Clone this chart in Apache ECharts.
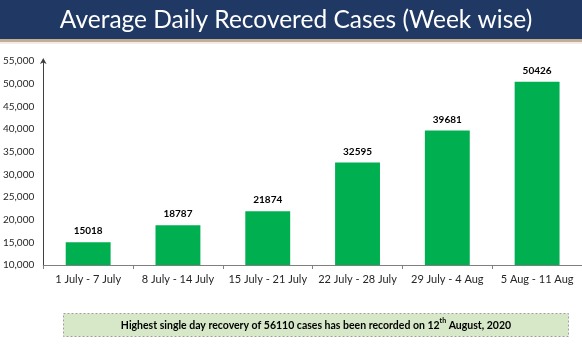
<!DOCTYPE html>
<html>
<head>
<meta charset="utf-8">
<script src="https://cdn.jsdelivr.net/npm/echarts@6/dist/echarts.min.js"></script>
<style>html,body{margin:0;padding:0;background:#fff}#c{width:582px;height:350px}</style>
</head>
<body>
<div id="c"></div>
<script>
const categories = ['1 July - 7 July','8 July - 14 July','15 July - 21 July','22 July - 28 July','29 July - 4 Aug','5 Aug - 11 Aug'];
const recovered = [15018, 18787, 21874, 32595, 39681, 50426];
const yMin = 10000, yMax = 55000, yStep = 5000;
const titleText = 'Average Daily Recovered Cases (Week wise)';

const chart = echarts.init(document.getElementById('c'), null, {renderer:'canvas'});
chart.setOption({
  animation: false,
  backgroundColor: '#ffffff',
  grid: {left: 41, right: -8, top: 61, bottom: 85, containLabel: false},
  xAxis: {
    type: 'category',
    data: categories,
    axisLine: {show: true, lineStyle: {color: '#7f7f7f', width: 1}},
    axisTick: {show: true, alignWithLabel: false, length: 4, lineStyle: {color: '#7f7f7f'}},
    axisLabel: {color: '#262626', fontFamily: 'Lato', fontSize: 11, margin: 9, interval: 0}
  },
  yAxis: {
    type: 'value',
    min: yMin, max: yMax, interval: yStep,
    axisLine: {show: true, symbol: ['none','arrow'], symbolSize: [5,6], symbolOffset: [0, 3], lineStyle: {color: '#404040', width: 1}},
    axisTick: {show: false},
    splitLine: {show: false},
    axisLabel: {color: '#262626', fontFamily: 'Lato', fontSize: 10, margin: 9,
      formatter: v => v.toLocaleString('en-US')}
  },
  series: [{
    type: 'bar',
    data: recovered,
    barWidth: '50%',
    itemStyle: {color: '#00B050'},
    label: {show: true, position: 'top', color: '#000', fontWeight: 'bold', fontFamily: 'Lato', fontSize: 10, distance: 6}
  }],
  graphic: [
    {type: 'rect', left: 0, top: 0, shape: {width: 582, height: 39}, style: {fill: '#1F3864'}, z: 10},
    {type: 'rect', left: 0, top: 39, shape: {width: 582, height: 3}, style: {fill: '#c2ae96'}, z: 10},
    {type: 'rect', left: 0, top: 42, shape: {width: 582, height: 2}, style: {fill: '#f3ece4'}, z: 10},
    {type: 'text', x: 296, y: 20, z: 11,
      style: {text: titleText, fill: '#ffffff', font: '24.5px Lato', align: 'center', verticalAlign: 'middle'}},
    {type: 'rect', left: 63, top: 313, z: 10,
      shape: {width: 505, height: 23},
      style: {fill: '#D6E8C8', stroke: '#a0a0a0', lineWidth: 1, lineDash: [2,2]}},
    {type: 'text', x: 316, y: 317, z: 11,
      style: {
        align: 'center',
        text: '{b|Highest single day recovery of 56110 cases has been recorded on 12}{s|th}{b| August, 2020}',
        rich: {
          b: {font: 'bold 10.5px Lato', fill: '#000', verticalAlign: 'bottom', lineHeight: 14},
          s: {font: 'bold 7px Lato', fill: '#000', verticalAlign: 'top', lineHeight: 14, padding: [0,0,6,0]}
        }
      }}
  ]
});
</script>
</body>
</html>
